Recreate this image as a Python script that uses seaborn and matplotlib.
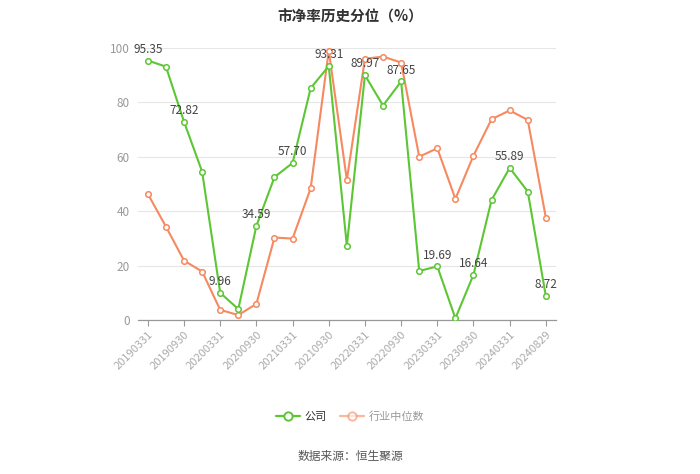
import matplotlib
matplotlib.use("Agg")
import matplotlib.pyplot as plt
import seaborn as sns
import numpy as np
import pandas as pd
from matplotlib.lines import Line2D

dates = ["20190331", "20190630", "20190930", "20191231",
         "20200331", "20200630", "20200930", "20201231",
         "20210331", "20210630", "20210930", "20211231",
         "20220331", "20220630", "20220930", "20221231",
         "20230331", "20230630", "20230930", "20231231",
         "20240331", "20240630", "20240829"]
company = [95.35, 93.1, 72.82, 54.5, 9.96, 4.0, 34.59, 52.5, 57.70, 85.2,
           93.31, 27.3, 89.97, 78.8, 87.65, 18.0, 19.69, 0.6, 16.64, 44.1,
           55.89, 47.2, 8.72]
industry = [46.3, 34.3, 21.8, 17.8, 3.7, 1.8, 5.9, 30.3, 29.9, 48.4,
            99.0, 51.5, 96.0, 96.8, 94.6, 60.0, 63.1, 44.5, 60.4, 73.8,
            77.0, 73.5, 37.6]
series_names = ["公司", "行业中位数"]

GREEN = "#5cc635"
ORANGE = "#f6895f"

sns.set_theme(style="white")
plt.rcParams['font.family'] = ['Noto Sans CJK SC', 'DejaVu Sans']

fig = plt.figure(figsize=(7.0, 4.74), dpi=100)
ax = fig.add_axes([0.197, 0.325, 0.597, 0.574])

idx = np.arange(len(dates))
df = pd.DataFrame({"i": np.concatenate([idx, idx]),
                   "v": company + industry,
                   "s": [series_names[0]] * len(idx) + [series_names[1]] * len(idx)})

for name, color in zip(series_names, [GREEN, ORANGE]):
    sub = df[df.s == name]
    sns.lineplot(data=sub, x="i", y="v", ax=ax, color=color, linewidth=1.5,
                 marker="o", markersize=4, markerfacecolor="white",
                 markeredgecolor=color, markeredgewidth=1.1,
                 zorder=3 if name == "公司" else 2)

for i in range(0, len(company), 2):
    ax.annotate(f"{company[i]:.2f}", (idx[i], company[i]), xytext=(0, 3.5),
                textcoords="offset points", ha="center", va="bottom",
                fontsize=8.5, color="#444444", zorder=5)

ax.set_xlim(-0.55, len(dates) - 0.45)
ax.set_ylim(0, 100)
ax.set_yticks([0, 20, 40, 60, 80, 100])
ticks = sorted(set(list(range(0, len(dates) - 1, 2)) + [len(dates) - 1]))
ax.set_xticks(ticks)
ax.set_xticklabels([dates[t] for t in ticks], rotation=45, ha="right",
                   rotation_mode="anchor", fontsize=8, color="#aaaaaa")
ax.tick_params(axis="y", labelsize=8.5, labelcolor="#999999", length=0, pad=6)
ax.tick_params(axis="x", length=4, color="#999999", width=0.8, pad=3,
               direction="out", bottom=True)
ax.set_xlabel("")
ax.set_ylabel("")
ax.grid(axis="y", color="#e6e6e6", linewidth=0.8)
ax.grid(axis="x", visible=False)
for s in ["top", "right", "left"]:
    ax.spines[s].set_visible(False)
ax.spines["bottom"].set_color("#999999")
ax.spines["bottom"].set_linewidth(0.9)
ax.set_axisbelow(True)

fig.text(0.5, 0.965, "市净率历史分位（%）", ha="center", va="center",
         fontsize=10.5, fontweight="bold", color="#333333")

handles = [Line2D([0], [0], color=GREEN, lw=1.6, marker="o", markersize=6,
                  markerfacecolor="white", markeredgecolor=GREEN, markeredgewidth=1.4),
           Line2D([0], [0], color=ORANGE, lw=1.6, marker="o", markersize=6,
                  markerfacecolor="white", markeredgecolor=ORANGE,
                  markeredgewidth=1.4, alpha=0.6)]
leg = fig.legend(handles, series_names, loc="center", bbox_to_anchor=(0.5, 0.122),
                 ncol=2, frameon=False, fontsize=8, handlelength=2.2,
                 columnspacing=1.2, handletextpad=0.4)
for t, c in zip(leg.get_texts(), ["#333333", "#999999"]):
    t.set_color(c)

fig.text(0.5, 0.036, "数据来源：恒生聚源", ha="center", va="center",
         fontsize=8.5, color="#555555")

fig.savefig("out.png", dpi=100)
